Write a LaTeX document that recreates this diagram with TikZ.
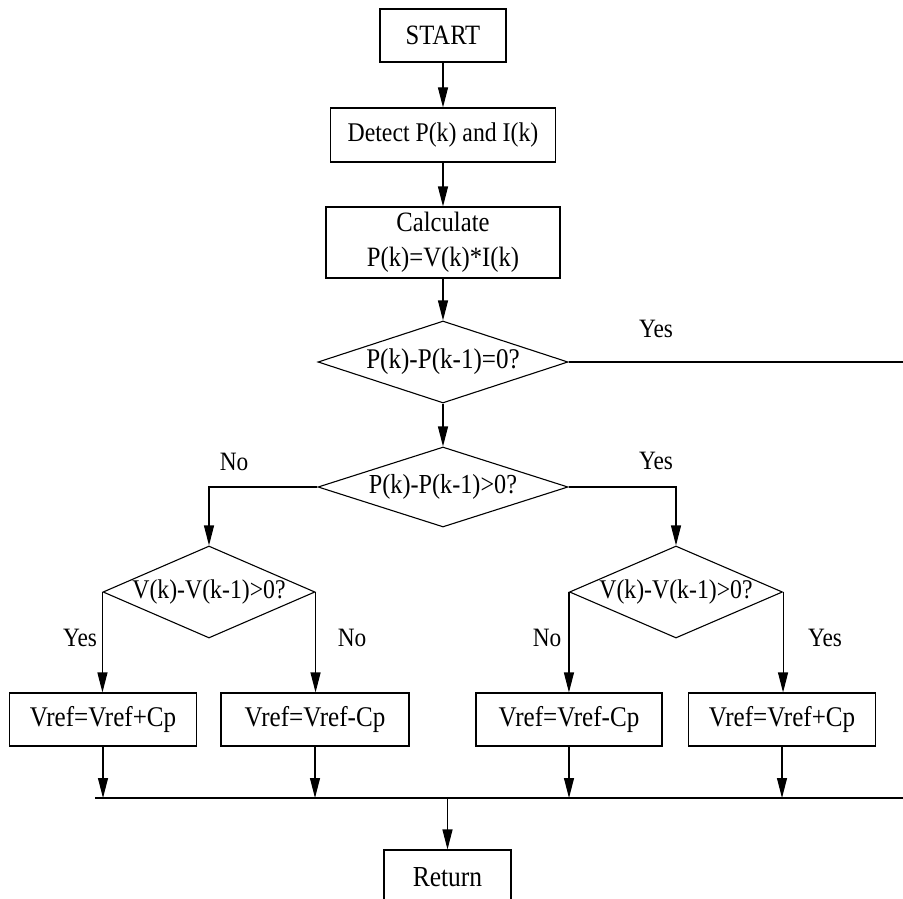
\documentclass[tikz,border=0pt]{standalone}
\usepackage{fontspec}
\setmainfont[FakeStretch=0.88]{Liberation Serif}
\usetikzlibrary{shapes.geometric,arrows.meta}
\begin{document}
\begin{tikzpicture}[x=1pt,y=-1pt,line width=1.1pt,
  box/.style={draw,rectangle,inner sep=0pt,align=center,font=\fontsize{27}{34}\selectfont},
  vbox/.style={box,minimum height=53pt,font=\fontsize{28.5}{34}\selectfont},
  dia/.style={draw,diamond,inner sep=0pt,aspect=2.5,font=\fontsize{27}{30}\selectfont},
  arr/.style={-{Triangle[length=20pt,width=10pt]}},
  lbl/.style={inner sep=0pt,font=\fontsize{26.5}{30}\selectfont}]
\useasboundingbox (0,0) rectangle (903,899);
\fill[white] (0,0) rectangle (903,899);
\clip (0,0) rectangle (903,899);
% process boxes
\node[box,minimum width=126pt,minimum height=53pt,font=\fontsize{28}{34}\selectfont] (start) at (443,35.5) {START};
\node[box,minimum width=225pt,minimum height=54pt] (detect) at (443,135) {Detect P(k) and I(k)};
\node[box,minimum width=234pt,minimum height=71pt,font=\fontsize{28}{35}\selectfont] (calc) at (443,242.5) {Calculate\\P(k)=V(k)*I(k)};
% decisions
\node[dia,minimum width=250pt,minimum height=82pt,font=\fontsize{28.5}{30}\selectfont] (d1) at (443,362) {\makebox[0pt]{P(k)-P(k-1)=0?}};
\node[dia,minimum width=250pt,minimum height=80pt,font=\fontsize{27.5}{30}\selectfont] (d2) at (443,487) {\makebox[0pt]{P(k)-P(k-1)>0?}};
\node[dia,minimum width=212pt,minimum height=92pt] (d3) at (209,592) {\makebox[0pt]{V(k)-V(k-1)>0?}};
\node[dia,minimum width=213pt,minimum height=92pt] (d4) at (676,592) {\makebox[0pt]{V(k)-V(k-1)>0?}};
% update boxes
\node[vbox,minimum width=187pt] (ll) at (103,719.5) {Vref=Vref+Cp};
\node[vbox,minimum width=188pt] (lr) at (315,719.5) {Vref=Vref-Cp};
\node[vbox,minimum width=186pt] (rl) at (569,719.5) {Vref=Vref-Cp};
\node[vbox,minimum width=187pt] (rr) at (782,719.5) {Vref=Vref+Cp};
\node[box,minimum width=127pt,minimum height=54pt,font=\fontsize{29}{34}\selectfont] (ret) at (447.5,877) {Return};
% free ends
\coordinate (e1) at (903,362);
\coordinate (busL) at (95,798);
\coordinate (busR) at (903,798);
\coordinate (busC) at (447.5,798);
% connectors
\draw[arr] (start) -- (detect);
\draw[arr] (detect) -- (calc);
\draw[arr] (calc) -- (d1.north);
\draw (d1.east) -- (e1);
\draw[arr] (d1.south) -- (d2.north);
\draw[arr] (d2.west) -| (d3.north);
\draw[arr] (d2.east) -| (d4.north);
\draw[arr] (d3.west) -- (d3.west |- ll.north);
\draw[arr] (d3.east) -- (d3.east |- lr.north);
\draw[arr] (d4.west) -- (d4.west |- rl.north);
\draw[arr] (d4.east) -- (d4.east |- rr.north);
\draw (busL) -- (busR);
\draw[arr] (ll.south) -- (ll.south |- busL);
\draw[arr] (lr.south) -- (lr.south |- busL);
\draw[arr] (rl.south) -- (rl.south |- busL);
\draw[arr] (rr.south) -- (rr.south |- busL);
\draw[arr] (busC) -- (ret.north);
% labels
\node[lbl] (y1) at (656,329) {Yes};
\node[lbl] (n2) at (234,462) {No};
\node[lbl] (y2) at (656,461) {Yes};
\node[lbl] (y3) at (80,638) {Yes};
\node[lbl] (n3) at (352,638) {No};
\node[lbl] (n4) at (547,638) {No};
\node[lbl] (y4) at (825,638) {Yes};
\end{tikzpicture}
\end{document}
